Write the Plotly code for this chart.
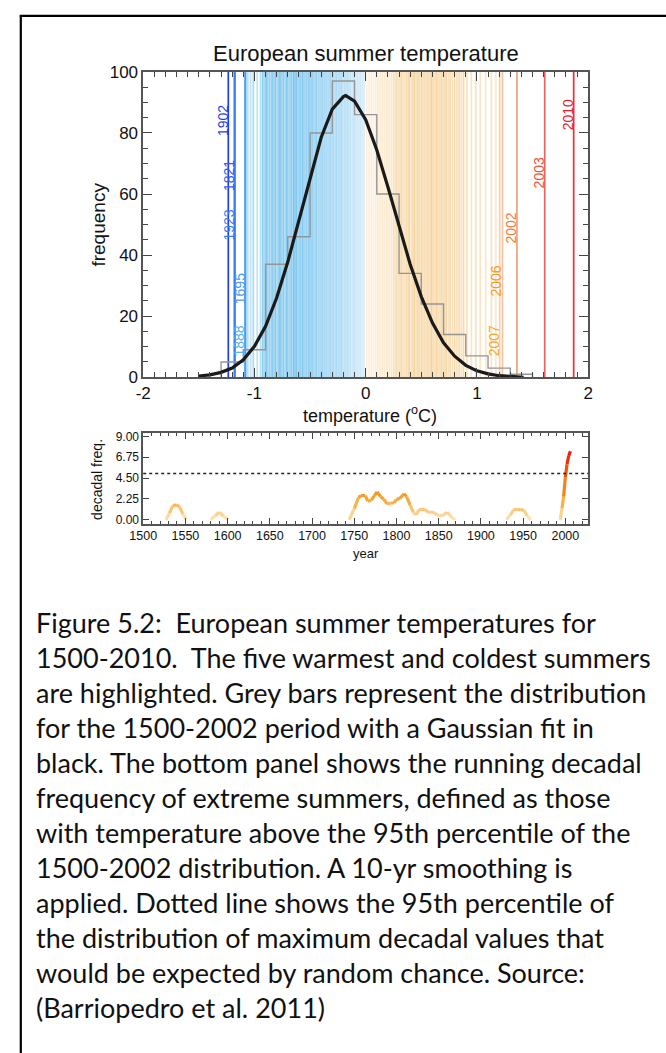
import plotly.graph_objects as go

# ---------------- data ----------------
# histogram of 1500-2002 summers (bin edges / counts)
hist_edges = [-1.3, -1.1, -0.9, -0.7, -0.5, -0.3, -0.1, 0.1, 0.3, 0.5, 0.7, 0.9, 1.1, 1.3, 1.5]
hist_counts = [5, 9, 37, 46, 80, 97, 86, 60, 34, 24, 14, 7, 3, 1]

# gaussian fit
gauss_x = [-1.5, -1.4, -1.3, -1.2, -1.1, -1.0, -0.9, -0.8, -0.7, -0.6, -0.5, -0.4, -0.3, -0.2,
           -0.18, -0.1, 0.0, 0.1, 0.2, 0.3, 0.4, 0.5, 0.6, 0.7, 0.8, 0.9, 1.0, 1.1, 1.2, 1.3, 1.42]
gauss_y = [0.4, 0.8, 1.6, 3.0, 5.7, 10.1, 16.7, 26.0, 37.8, 51.5, 65.7, 78.5, 87.8, 91.9,
           92.2, 90.4, 84.3, 74.4, 62.3, 49.4, 37.0, 26.4, 17.8, 11.3, 6.9, 3.9, 2.1, 1.1, 0.5, 0.25, 0.0]

# individual cold / warm summers (background stripes): temperature and shade (0 pale .. 1 strong)
cold_stripes = [-1.06, -1.035, -1.01, -0.975, -0.945, -0.925, -0.91, -0.895, -0.88, -0.865, -0.85,
                -0.84, -0.825, -0.81, -0.795, -0.78, -0.77, -0.755, -0.74, -0.725, -0.71, -0.7,
                -0.685, -0.67, -0.655, -0.645, -0.63, -0.62, -0.605, -0.59, -0.575, -0.565, -0.55,
                -0.535, -0.52, -0.51, -0.495, -0.48, -0.47, -0.455, -0.44, -0.425, -0.41, -0.4,
                -0.385, -0.37, -0.355, -0.345, -0.33, -0.315, -0.3, -0.29, -0.275, -0.26, -0.245,
                -0.235, -0.22, -0.205, -0.19, -0.18, -0.165, -0.15, -0.135, -0.12, -0.105,
                -0.09, -0.075, -0.06, -0.045, -0.03, -0.015]
cold_shade = [0.4, 0.3, 0.5, 0.3, 0.4, 0.8, 0.5, 0.9, 0.6, 0.7, 0.5,
              0.8, 0.6, 0.9, 0.5, 0.7, 0.9, 0.6, 0.8, 0.5, 0.9, 0.7,
              0.6, 0.8, 0.5, 1.0, 0.7, 0.9, 0.6, 0.8, 0.5, 0.9, 0.6,
              0.7, 0.5, 0.8, 0.6, 0.9, 0.5, 0.6, 0.7, 0.5, 0.6, 0.5,
              0.6, 0.5, 0.6, 0.4, 0.5, 0.6, 0.4, 0.5, 0.4, 0.5, 0.4,
              0.4, 0.5, 0.3, 0.4, 0.3, 0.4, 0.3, 0.3, 0.2, 0.3,
              0.2, 0.2, 0.15, 0.2, 0.1, 0.1]
warm_stripes = [0.01, 0.03, 0.05, 0.07, 0.09, 0.11, 0.13, 0.15, 0.17, 0.19, 0.21, 0.23, 0.25,
                0.265, 0.28, 0.29, 0.305, 0.32, 0.335, 0.35, 0.365, 0.38, 0.39, 0.41, 0.425,
                0.44, 0.455, 0.47, 0.48, 0.5, 0.515, 0.53, 0.545, 0.56, 0.575, 0.59, 0.605,
                0.62, 0.635, 0.65, 0.665, 0.68, 0.695, 0.71, 0.725, 0.745, 0.76, 0.78, 0.8,
                0.82, 0.84, 0.86, 0.88, 0.91, 0.95, 0.99, 1.03, 1.08, 1.13, 1.17]
warm_shade = [0.1, 0.1, 0.15, 0.1, 0.2, 0.15, 0.2, 0.25, 0.2, 0.3, 0.25, 0.3, 0.5,
              0.4, 0.6, 0.4, 0.5, 0.7, 0.5, 0.4, 0.6, 0.5, 0.8, 0.5, 0.6,
              0.9, 0.5, 0.7, 0.6, 0.8, 0.5, 0.6, 0.5, 0.7, 0.5, 0.9, 0.6,
              0.5, 0.8, 0.6, 0.5, 0.7, 0.5, 0.6, 0.8, 0.5, 0.6, 0.5, 0.7,
              0.5, 0.6, 0.5, 0.7, 0.5, 0.4, 0.5, 0.4, 0.3, 0.4, 0.3]

# five coldest / warmest summers
cold_years = ["1902", "1821", "1923", "1888", "1695"]
cold_temps = [-1.235, -1.18, -1.175, -1.085, -1.08]
cold_label_y = [84, 66, 50, 12, 29]
cold_colors = ["#1f3ff0", "#2b5ef2", "#3a80f5", "#55b0f7", "#4a9cf5"]

warm_years = ["2007", "2006", "2002", "2003", "2010"]
warm_temps = [1.205, 1.23, 1.36, 1.61, 1.87]
warm_label_y = [12, 31.5, 49, 67, 86]
warm_text_colors = ["#f5a623", "#f59a2a", "#f07c3c", "#ef5238", "#e8202a"]
warm_line_colors = ["#f8d0b0", "#f6c4a0", "#f0a07c", "#f06262", "#e83232"]

# running decadal frequency of extreme summers
dec_years = [1527, 1531, 1535, 1539, 1543, 1547, 1551,
             1580, 1585, 1590, 1595, 1600,
             1744, 1750, 1755, 1758, 1763, 1766, 1770, 1774, 1777, 1781, 1785, 1789, 1793, 1797,
             1800, 1804, 1807, 1809, 1812, 1816, 1820, 1823, 1827, 1830, 1834, 1837, 1840, 1844,
             1848, 1851, 1854, 1857, 1860, 1863, 1866, 1870,
             1930, 1935, 1939, 1943, 1947, 1951, 1955, 1959,
             1990, 1994, 1996, 1998, 2000, 2002, 2004, 2006]
dec_vals = [0.0, 0.7, 1.5, 1.6, 1.4, 0.6, 0.0,
            0.0, 0.4, 0.8, 0.4, 0.0,
            0.0, 1.2, 2.4, 2.6, 2.6, 2.0, 2.1, 2.6, 3.0, 2.5, 2.2, 1.7, 1.8, 1.8,
            2.2, 2.3, 2.6, 2.8, 2.5, 1.6, 0.8, 0.5, 1.1, 1.1, 1.1, 0.8, 0.8, 0.8,
            0.5, 0.5, 0.4, 0.6, 0.8, 0.5, 0.2, 0.0,
            0.0, 0.5, 1.1, 1.1, 1.1, 1.0, 0.4, 0.0,
            0.0, 0.0, 1.2, 2.5, 4.6, 6.0, 6.9, 7.4]
threshold_95 = 5.0

caption_lines = [
    "Figure 5.2:  European summer temperatures for",
    "1500-2010.  The five warmest and coldest summers",
    "are highlighted. Grey bars represent the distribution",
    "for the 1500-2002 period with a Gaussian fit in",
    "black. The bottom panel shows the running decadal",
    "frequency of extreme summers, defined as those",
    "with temperature above the 95th percentile of the",
    "1500-2002 distribution. A 10-yr smoothing is",
    "applied. Dotted line shows the 95th percentile of",
    "the distribution of maximum decadal values that",
    "would be expected by random chance. Source:",
    "(Barriopedro et al. 2011)",
]

# ---------------- helpers ----------------
W, H = 666, 1053
def px(x):
    return x / W
def py(y):
    return 1 - y / H

def mix(c0, c1, f):
    return tuple(c0[i] + f * (c1[i] - c0[i]) for i in range(len(c0)))

def rgb(c):
    return "rgb(%d,%d,%d)" % (c[0], c[1], c[2])

def lerp_color(stops, v):
    if v <= stops[0][0]:
        return stops[0][1]
    for (v0, c0), (v1, c1) in zip(stops[:-1], stops[1:]):
        if v <= v1:
            return mix(c0, c1, (v - v0) / (v1 - v0))
    return stops[-1][1]

cold_pale, cold_strong = (228, 243, 251), (120, 196, 238)
warm_pale, warm_strong = (254, 244, 230), (245, 208, 150)
dec_scale = [(0.0, (253, 230, 190)), (1.0, (250, 200, 120)), (2.5, (246, 160, 40)),
             (4.5, (240, 110, 10)), (7.5, (230, 20, 20))]

fig = go.Figure()
shapes = []
annotations = []

# background stripes
for t, s in zip(cold_stripes, cold_shade):
    shapes.append(dict(type="line", xref="x", yref="y", x0=t, x1=t, y0=0, y1=100, layer="below",
                       line=dict(color=rgb(mix(cold_pale, cold_strong, s)), width=1.8)))
for t, s in zip(warm_stripes, warm_shade):
    shapes.append(dict(type="line", xref="x", yref="y", x0=t, x1=t, y0=0, y1=100, layer="below",
                       line=dict(color=rgb(mix(warm_pale, warm_strong, s)), width=1.8)))

lab_font = "Liberation Sans, Arial"

# highlighted years
for yr, t, ly, c in zip(cold_years, cold_temps, cold_label_y, cold_colors):
    shapes.append(dict(type="line", xref="x", yref="y", x0=t, x1=t, y0=0, y1=100, layer="below",
                       line=dict(color=c, width=1.7)))
    annotations.append(dict(x=t, y=ly, xref="x", yref="y", text=yr, textangle=-90, showarrow=False,
                            xanchor="center", yanchor="middle", xshift=-6,
                            font=dict(family=lab_font, size=14, color=c)))
for yr, t, ly, tc, lc in zip(warm_years, warm_temps, warm_label_y, warm_text_colors, warm_line_colors):
    shapes.append(dict(type="line", xref="x", yref="y", x0=t, x1=t, y0=0, y1=100, layer="below",
                       line=dict(color=lc, width=1.7)))
    annotations.append(dict(x=t, y=ly, xref="x", yref="y", text=yr, textangle=-90, showarrow=False,
                            xanchor="center", yanchor="middle", xshift=-6,
                            font=dict(family=lab_font, size=14, color=tc)))

# histogram steps
step_x = [hist_edges[0]] + hist_edges
step_y = [0] + hist_counts + [0]
fig.add_trace(go.Scatter(x=step_x, y=step_y, mode="lines", line=dict(color="#959595", width=1.4, shape="hv"),
                         xaxis="x", yaxis="y", showlegend=False, hoverinfo="skip"))
# gaussian fit
fig.add_trace(go.Scatter(x=gauss_x, y=gauss_y, mode="lines", line=dict(color="#1a1a1a", width=3.2),
                         xaxis="x", yaxis="y", showlegend=False, hoverinfo="skip"))

# decadal frequency, coloured by value
for i in range(len(dec_years) - 1):
    v0, v1 = dec_vals[i], dec_vals[i + 1]
    if v0 == 0 and v1 == 0:
        continue
    c = lerp_color(dec_scale, (v0 + v1) / 2)
    fig.add_trace(go.Scatter(x=[dec_years[i], dec_years[i + 1]], y=[v0, v1], mode="lines",
                             line=dict(color=rgb(c), width=3.2), xaxis="x2", yaxis="y2",
                             showlegend=False, hoverinfo="skip"))
shapes.append(dict(type="line", xref="x2 domain", yref="y2", x0=0, x1=1, y0=threshold_95, y1=threshold_95,
                   line=dict(color="#222", width=1.6, dash="dot")))

# outer frame (top and left edges visible)
shapes.append(dict(type="line", xref="paper", yref="paper", x0=px(6), x1=1.01, y0=py(7), y1=py(7),
                   line=dict(color="black", width=2.2)))
shapes.append(dict(type="line", xref="paper", yref="paper", x0=px(7), x1=px(7), y0=py(6), y1=-0.01,
                   line=dict(color="black", width=2.2)))

# titles / labels
def label(x, y, text, size, angle=0):
    annotations.append(dict(x=px(x), y=py(y), xref="paper", yref="paper", text=text, textangle=angle,
                            xanchor="center", yanchor="middle", showarrow=False,
                            font=dict(family=lab_font, size=size, color="#111")))

label(362, 45, "European summer temperature", 22)
label(87, 220, "frequency", 19, -90)
label(366, 413, "temperature (<sup>o</sup>C)", 18)
label(86, 479, "decadal freq.", 14, -90)
label(362, 555, "year", 13)

# caption
for i, line in enumerate(caption_lines):
    annotations.append(dict(x=px(21), y=py(625 + 35.6 * i), xref="paper", yref="paper", text=line,
                            xanchor="left", yanchor="middle", showarrow=False,
                            font=dict(family="Lato, Carlito, Calibri, sans-serif", size=27, color="#111")))

axis_common = dict(showline=True, linecolor="#555", linewidth=1.5, mirror="allticks", ticks="inside",
                   tickcolor="#444", tickwidth=1.2, showgrid=False, zeroline=False)

fig.update_layout(
    width=W, height=H, margin=dict(l=0, r=0, t=0, b=0), autosize=False,
    paper_bgcolor="white", plot_bgcolor="white", showlegend=False,
    shapes=shapes, annotations=annotations,
    xaxis=dict(domain=[px(133), px(591)], range=[-2, 2], anchor="y",
               tickvals=[-2, -1, 0, 1, 2], ticktext=["-2", "-1", "0", "1", "2"], ticklen=9,
               minor=dict(dtick=0.1, ticks="inside", ticklen=5, tickcolor="#444", showgrid=False),
               tickfont=dict(family=lab_font, size=17, color="#111"), **axis_common),
    yaxis=dict(domain=[py(375), py(64)], range=[0, 100], anchor="x",
               tickvals=[0, 20, 40, 60, 80, 100], ticklen=9,
               minor=dict(dtick=5, ticks="inside", ticklen=5, tickcolor="#444", showgrid=False),
               tickfont=dict(family=lab_font, size=17, color="#111"), **axis_common),
    xaxis2=dict(domain=[px(133), px(591)], range=[1500, 2027], anchor="y2",
                tickvals=[1500, 1550, 1600, 1650, 1700, 1750, 1800, 1850, 1900, 1950, 2000], ticklen=6,
                minor=dict(dtick=10, ticks="inside", ticklen=3, tickcolor="#444", showgrid=False),
                tickfont=dict(family=lab_font, size=12.5, color="#111"), **axis_common),
    yaxis2=dict(domain=[py(524), py(432)], range=[-0.42, 9.35], anchor="x2",
                tickvals=[0, 2.25, 4.5, 6.75, 9], ticktext=["0.00", "2.25", "4.50", "6.75", "9.00"],
                ticklen=6, tickfont=dict(family=lab_font, size=12, color="#111"), **axis_common),
)

fig.write_html("out.html", config={"displayModeBar": False},
               post_script="document.body.style.margin='0';document.body.style.overflow='hidden';")
